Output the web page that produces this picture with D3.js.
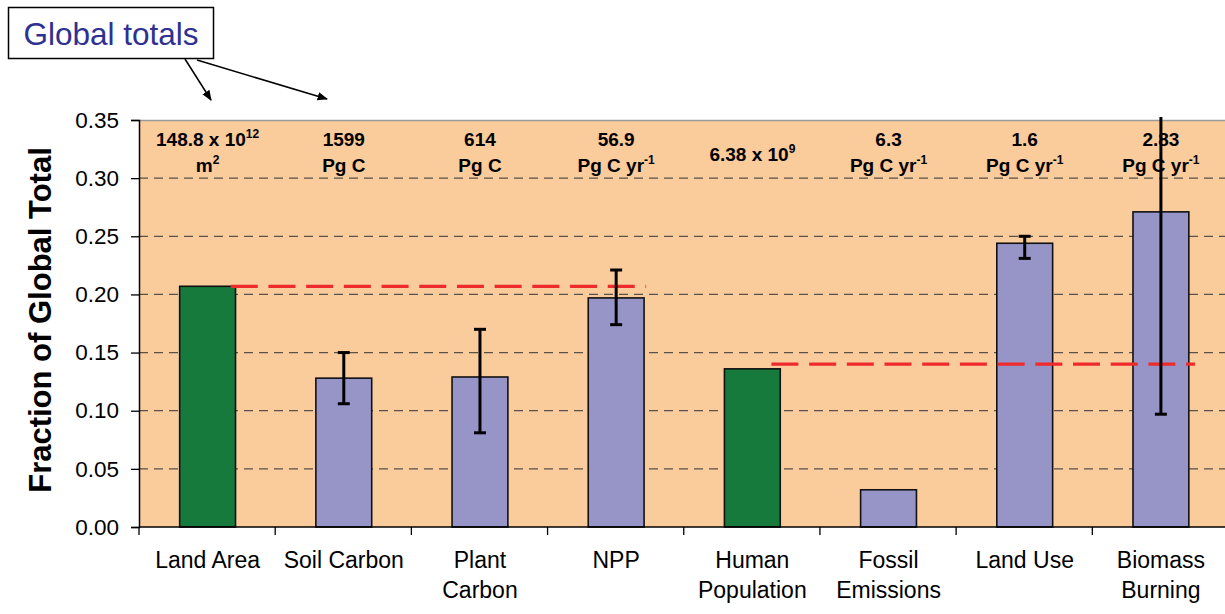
<!DOCTYPE html>
<html>
<head>
<meta charset="utf-8">
<script src="https://cdn.jsdelivr.net/npm/d3@7"></script>
<style>
  body { margin: 0; background: #fff; }
  text { font-family: Arial, "Liberation Sans", sans-serif; }
</style>
</head>
<body>
<svg id="chart" width="1225" height="614"></svg>
<script>
// categories (wrapped labels) and values
const categories = [
    ["Land Area"], ["Soil Carbon"], ["Plant", "Carbon"], ["NPP"],
    ["Human", "Population"], ["Fossil", "Emissions"], ["Land Use"], ["Biomass", "Burning"]
];
const fractions = [0.207, 0.128, 0.129, 0.197, 0.136, 0.032, 0.244, 0.271];
const errLow  = [null, 0.106, 0.081, 0.174, null, null, 0.231, 0.097];
const errHigh = [null, 0.150, 0.170, 0.221, null, null, 0.250, 0.445];
const barGroup = ["land", "carbon", "carbon", "carbon", "land", "carbon", "carbon", "carbon"];

// global totals printed over each column (^ marks superscript)
const totalValue = ["148.8 x 10^12", "1599", "614", "56.9", "6.38 x 10^9", "6.3", "1.6", "2.83"];
const totalUnit  = ["m^2", "Pg C", "Pg C", "Pg C yr^-1", "", "Pg C yr^-1", "Pg C yr^-1", "Pg C yr^-1"];

const yTicks = [0, 0.05, 0.10, 0.15, 0.20, 0.25, 0.30, 0.35];

// red reference lines (land share vs. carbon, population share vs. emissions)
const refLines = [
    { value: 0.207, from: "Land Area", to: "NPP" },
    { value: 0.140, from: "Human Population", to: "Biomass Burning" }
];

const svg = d3.select('#chart');
const plot = { left: 139, right: 1229, top: 120, bottom: 527 };
const keys = categories.map(c => c.join(' '));

const x = d3.scaleBand().domain(keys)
    .range([plot.left + 0.5, plot.right])
    .paddingInner(0.59).paddingOuter(0.295);
const y = d3.scaleLinear().domain([0, 0.35]).range([plot.bottom, plot.top]);
const color = { land: '#167a3d', carbon: '#9795c8' };

// background
svg.append('rect')
    .attr('x', plot.left).attr('y', plot.top)
    .attr('width', plot.right - plot.left).attr('height', plot.bottom - plot.top)
    .attr('fill', '#facb9b');
svg.append('line')
    .attr('x1', plot.left).attr('x2', plot.right)
    .attr('y1', plot.top + 0.5).attr('y2', plot.top + 0.5)
    .attr('stroke', '#9a9a9a').attr('stroke-width', 1.5);

// dashed grid
svg.append('g').selectAll('line')
    .data(yTicks.filter(t => t > 0 && t < 0.35))
    .join('line')
    .attr('x1', plot.left).attr('x2', plot.right)
    .attr('y1', d => y(d)).attr('y2', d => y(d))
    .attr('stroke', '#5a5148').attr('stroke-width', 1.3)
    .attr('stroke-dasharray', '9,6');

// bars
svg.append('g').selectAll('rect')
    .data(keys)
    .join('rect')
    .attr('x', d => x(d))
    .attr('width', x.bandwidth())
    .attr('y', (d, i) => y(fractions[i]))
    .attr('height', (d, i) => y(0) - y(fractions[i]))
    .attr('fill', (d, i) => color[barGroup[i]])
    .attr('stroke', '#111').attr('stroke-width', 1.6);

// red reference lines
const step = x.step();
svg.append('g').selectAll('line')
    .data(refLines)
    .join('line')
    .attr('x1', (d, i) => x(d.from) + x.bandwidth() / 2 + (i ? 0.14 : 0.17) * step)
    .attr('x2', (d, i) => x(d.to) + x.bandwidth() / 2 + (i ? 0.25 : 0.22) * step)
    .attr('y1', d => y(d.value)).attr('y2', d => y(d.value))
    .attr('stroke', '#ee2a2a').attr('stroke-width', 3.3)
    .attr('stroke-dasharray', '27,10.7');

// error bars
const errG = svg.append('g').attr('stroke', '#000').attr('stroke-width', 3);
keys.forEach((k, i) => {
    if (errLow[i] == null) return;
    const cx = x(k) + x.bandwidth() / 2;
    const clipped = errHigh[i] > 0.35;
    const yHi = clipped ? y(0.35) - 3 : y(errHigh[i]);
    errG.append('line').attr('x1', cx).attr('x2', cx)
        .attr('y1', y(errLow[i])).attr('y2', yHi);
    errG.append('line').attr('x1', cx - 6).attr('x2', cx + 6)
        .attr('y1', y(errLow[i])).attr('y2', y(errLow[i]));
    if (!clipped) {
        errG.append('line').attr('x1', cx - 6).attr('x2', cx + 6)
            .attr('y1', yHi).attr('y2', yHi);
    }
});

// axes
const yAxis = svg.append('g')
    .attr('transform', `translate(${plot.left},0)`)
    .call(d3.axisLeft(y).tickValues(yTicks).tickFormat(d3.format('.2f')).tickSizeOuter(0).tickSize(8).tickPadding(12));
yAxis.select('.domain').attr('stroke', '#000').attr('stroke-width', 1.5);
yAxis.selectAll('.tick line').attr('stroke', '#000').attr('stroke-width', 1.3);
yAxis.selectAll('.tick text').attr('font-size', 22.5).attr('fill', '#000')
    .attr('font-family', 'Arial, "Liberation Sans", sans-serif');

const xAxis = svg.append('g')
    .attr('transform', `translate(0,${plot.bottom})`);
xAxis.append('line')
    .attr('x1', plot.left).attr('x2', plot.right)
    .attr('stroke', '#000').attr('stroke-width', 1.5);
xAxis.selectAll('.xtick')
    .data(d3.range(keys.length + 1))
    .join('line')
    .attr('class', 'xtick')
    .attr('x1', i => plot.left + i * step).attr('x2', i => plot.left + i * step)
    .attr('y1', 0).attr('y2', 8)
    .attr('stroke', '#000').attr('stroke-width', 1.3);

// category labels
svg.append('g').selectAll('text')
    .data(categories)
    .join('text')
    .attr('text-anchor', 'middle')
    .attr('font-size', 23)
    .attr('fill', '#000')
    .each(function (lines, i) {
        const cx = x(keys[i]) + x.bandwidth() / 2;
        lines.forEach((ln, j) => {
            d3.select(this).append('tspan')
                .attr('x', cx).attr('y', 568 + j * 30)
                .text(ln);
        });
    });

// y title
svg.append('text')
    .attr('transform', 'translate(51,320) rotate(-90)')
    .attr('text-anchor', 'middle')
    .attr('font-size', 31).attr('font-weight', 'bold')
    .text('Fraction of Global Total');

// totals over columns, with superscripts
const writeRich = (sel, str) => {
    let lift = 0;
    str.split(/(\^\S+)/).filter(s => s.length).forEach(part => {
        if (part[0] === '^') {
            sel.append('tspan').attr('font-size', 12).attr('dy', -8).text(part.slice(1));
            lift = 8;
        } else {
            sel.append('tspan').attr('dy', lift).text(part);
            lift = 0;
        }
    });
};
const totals = svg.append('g').attr('font-weight', 'bold').attr('font-size', 19);
keys.forEach((k, i) => {
    const cx = x(k) + x.bandwidth() / 2;
    if (totalUnit[i]) {
        writeRich(totals.append('text').attr('x', cx).attr('y', 146).attr('text-anchor', 'middle'), totalValue[i]);
        writeRich(totals.append('text').attr('x', cx).attr('y', 172).attr('text-anchor', 'middle'), totalUnit[i]);
    } else {
        writeRich(totals.append('text').attr('x', cx).attr('y', 161).attr('text-anchor', 'middle'), totalValue[i]);
    }
});

// "Global totals" callout
svg.append('defs').append('marker')
    .attr('id', 'arrow').attr('viewBox', '0 0 10 10')
    .attr('refX', 9).attr('refY', 5)
    .attr('markerWidth', 7).attr('markerHeight', 7)
    .attr('orient', 'auto')
    .append('path').attr('d', 'M0,1 L10,5 L0,9 z').attr('fill', '#000');
svg.append('rect')
    .attr('x', 8.5).attr('y', 7.5).attr('width', 205).attr('height', 51)
    .attr('fill', '#fff').attr('stroke', '#000').attr('stroke-width', 1.5);
svg.append('text')
    .attr('x', 111).attr('y', 45).attr('text-anchor', 'middle')
    .attr('font-size', 31.5).attr('fill', '#2e3192')
    .text('Global totals');
[[185, 59, 211, 100], [197, 60, 327, 99]].forEach(a => {
    svg.append('line')
        .attr('x1', a[0]).attr('y1', a[1]).attr('x2', a[2]).attr('y2', a[3])
        .attr('stroke', '#000').attr('stroke-width', 1.5)
        .attr('marker-end', 'url(#arrow)');
});
</script>
</body>
</html>
